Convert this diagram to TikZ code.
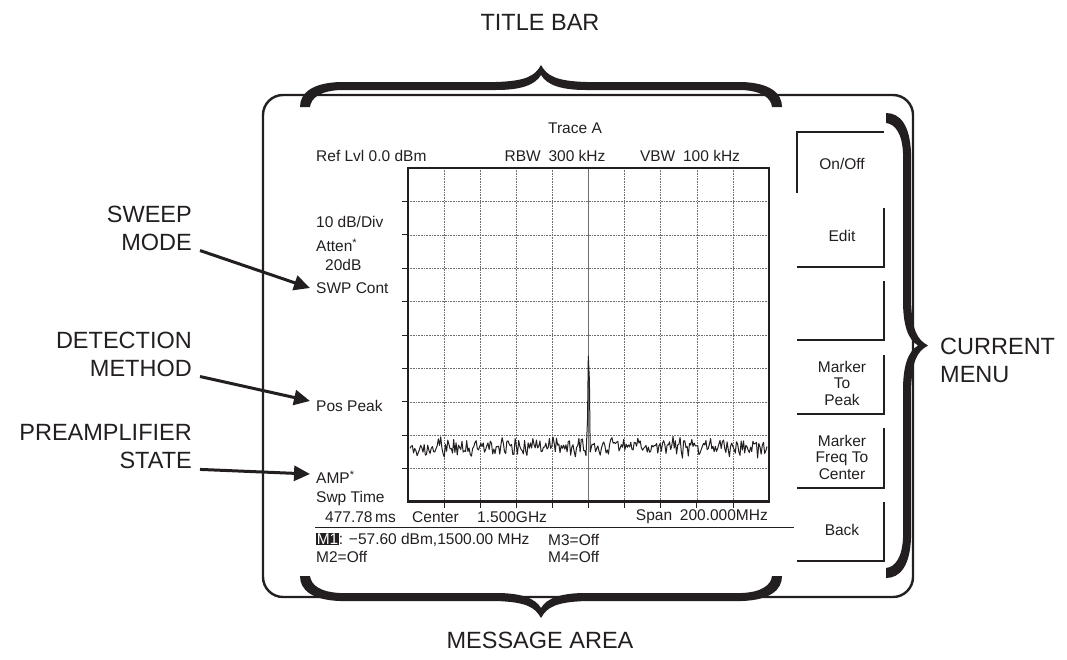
\documentclass[tikz,border=0pt]{standalone}
\usepackage{fontspec}
\setmainfont{Liberation Sans}
\usepackage{xcolor}
\definecolor{cInk}{HTML}{231F20}
\definecolor{cGrid}{HTML}{6F6F6F}
\usetikzlibrary{arrows.meta}
\tikzset{
  scr-text/.style={inner sep=0pt,font=\fontsize{15.5}{16.5}\selectfont,text=cInk},
  soft-key/.style={scr-text,align=center},
  call-label/.style={inner sep=0pt,font=\fontsize{23.5}{28}\selectfont,text=cInk},
  call-arrow/.style={-{Triangle[length=16pt,width=15pt]},line width=3pt,draw=cInk},
  frame-line/.style={line width=2.4pt,draw=cInk,rounded corners=20pt},
  key-edge/.style={line width=1.3pt,draw=cInk},
  grid-line/.style={densely dotted,line width=0.6pt,draw=cGrid},
  trace-line/.style={line width=1pt,draw=cInk,line join=round},
  brace-fill/.style={fill=cInk},
}
% curly brace of length #1, ends at y=0, tip towards -y
\newcommand{\curlybrace}[1]{%
  \pgfmathsetmacro{\bl}{#1}\pgfmathsetmacro{\bm}{#1/2}%
  \fill[brace-fill] (0,0) .. controls (0,-14) and (12,-24) .. (40,-25)
    -- (\bm-45,-25) .. controls (\bm-15,-26) and (\bm-6,-31) .. (\bm,-42)
    .. controls (\bm+6,-31) and (\bm+15,-26) .. (\bm+45,-25)
    -- (\bl-40,-25) .. controls (\bl-12,-24) and (\bl,-14) .. (\bl,0)
    -- (\bl-10,0) .. controls (\bl-11,-9) and (\bl-20,-16) .. (\bl-40,-17)
    -- (\bm+45,-17) .. controls (\bm+20,-17) and (\bm+6,-22) .. (\bm,-32)
    .. controls (\bm-6,-22) and (\bm-20,-17) .. (\bm-45,-17)
    -- (40,-17) .. controls (20,-16) and (11,-9) .. (10,0) -- cycle;}

\begin{document}
\begin{tikzpicture}[x=1pt,y=-1pt]
  \useasboundingbox (0,0) rectangle (1067,659);
  \pgfmathsetseed{11}

  % instrument frame and braces
  \draw[frame-line] (263,95) rectangle (913,597);
  \begin{scope}[shift={(300,107)}] \curlybrace{482} \end{scope}
  \begin{scope}[shift={(300,576)},yscale=-1] \curlybrace{482} \end{scope}
  \begin{scope}[shift={(886,113)},rotate=-90] \curlybrace{465} \end{scope}

  % graticule
  \foreach \i in {1,...,9} {
    \draw[grid-line] ({408+36.1*\i},168) -- ({408+36.1*\i},502);
    \draw[grid-line] (408,{168+33.4*\i}) -- (769,{168+33.4*\i});
    \draw[line width=0.8pt,draw=cInk] (402,{168+33.4*\i}) -- (408,{168+33.4*\i});
    \draw[line width=0.8pt,draw=cInk] ({408+36.1*\i},502) -- ({408+36.1*\i},508);
  }
  \draw[line width=0.6pt,draw=cGrid] (588.5,168) -- (588.5,502);
  \draw[line width=1.2pt,draw=cInk] (408,168) rectangle (769,502);
  \draw[line width=3pt,draw=cInk] (407,501) -- (770,501);

  % trace
  \draw[trace-line] plot[domain=410:586,samples=150] (\x,{447+7*rand+5*rand})
    -- (587.5,420) -- (588.3,356) -- (589.4,380) -- (590.2,452)
    -- plot[domain=592:767,samples=150] (\x,{447+7*rand+5*rand});

  % screen annotations
  \node[scr-text] (trace) at (575,128) {Trace A};
  \node[scr-text,anchor=west] (reflvl) at (316,156) {Ref Lvl 0.0 dBm};
  \node[scr-text] (rbw) at (555,156) {RBW\enspace 300 kHz};
  \node[scr-text] (vbw) at (690,156) {VBW\enspace 100 kHz};
  \node[scr-text,anchor=west] (scale) at (316,222) {10 dB/Div};
  \node[scr-text,anchor=west] (atten) at (316,245) {Atten\textsuperscript{*}};
  \node[scr-text,anchor=west] (attval) at (325,265) {20dB};
  \node[scr-text,anchor=west] (swpcont) at (316,288) {SWP Cont};
  \node[scr-text,anchor=west] (pospeak) at (316,406) {Pos Peak};
  \node[scr-text,anchor=west] (amp) at (316,477) {AMP\textsuperscript{*}};
  \node[scr-text,anchor=west] (swptime) at (316,498) {Swp Time};
  \node[scr-text,anchor=west] (swpval) at (325,517) {477.78\,ms};
  \node[scr-text,anchor=west] (center) at (412,517) {Center};
  \node[scr-text,anchor=west] (cfreq) at (477,517) {1.500GHz};
  \node[scr-text,anchor=east] (span) at (768,517) {Span\enspace 200.000MHz};
  \draw[line width=1pt,draw=cInk] (315,527) -- (794,527);
  \node[scr-text,anchor=west] (mk1) at (316,540)
    {{\fboxsep=0.6pt\colorbox{cInk}{\textcolor{white}{M1}}}: −57.60 dBm,1500.00 MHz};
  \node[scr-text,anchor=west] (mk2) at (316,557) {M2=Off};
  \node[scr-text,anchor=west] (mk3) at (548,540) {M3=Off};
  \node[scr-text,anchor=west] (mk4) at (548,557) {M4=Off};

  % soft keys
  \draw[key-edge] (884,132) -- (797,132) -- (797,193);
  \foreach \t/\b in {208/267,281/340,355/414,428/488,502/561}
    \draw[key-edge] (884,\t) -- (884,\b) -- (797,\b);
  \node[soft-key] (k-onoff) at (842,164) {On/Off};
  \node[soft-key] (k-edit) at (842,236) {Edit};
  \node[soft-key] (k-peak) at (842,383) {Marker\\To\\Peak};
  \node[soft-key] (k-center) at (842,457) {Marker\\Freq To\\Center};
  \node[soft-key] (k-back) at (842,530) {Back};

  % call-outs
  \node[call-label] (titlebar) at (540,22) {TITLE BAR};
  \node[call-label] (msgarea) at (540,640) {MESSAGE AREA};
  \node[call-label,align=left,anchor=west] (curmenu) at (940,360) {CURRENT\\MENU};
  \node[call-label,align=right,anchor=east] (sweep) at (192,228) {SWEEP\\MODE};
  \node[call-label,align=right,anchor=east] (detect) at (192,354) {DETECTION\\METHOD};
  \node[call-label,align=right,anchor=east] (preamp) at (192,447) {PREAMPLIFIER\\STATE};
  \draw[call-arrow] ([xshift=8pt]sweep.south east) -- ([xshift=-6pt]swpcont.west);
  \draw[call-arrow] ([xshift=8pt]detect.south east) -- ([xshift=-6pt,yshift=5pt]pospeak.west);
  \draw[call-arrow] ([xshift=8pt]preamp.south east) -- ([xshift=-6pt,yshift=3pt]amp.west);
\end{tikzpicture}
\end{document}
